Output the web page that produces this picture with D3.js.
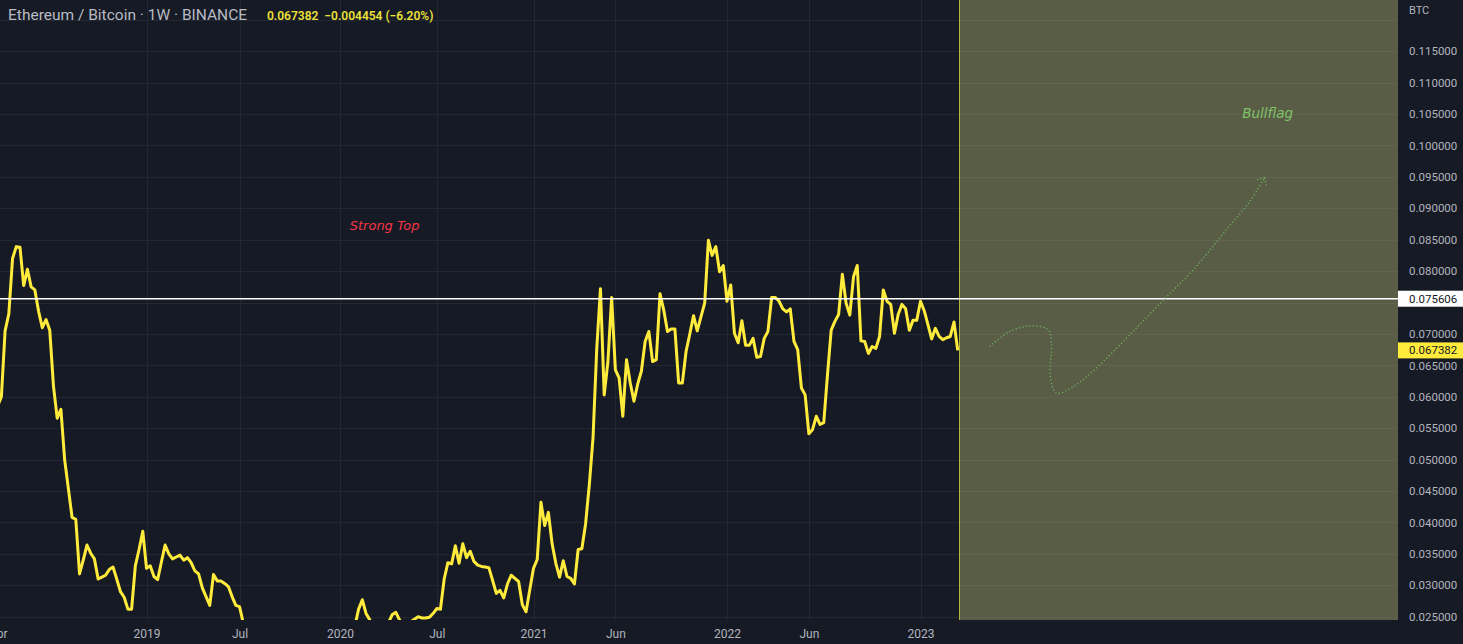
<!DOCTYPE html>
<html lang="en">
<head>
<meta charset="UTF-8">
<title>Ethereum / Bitcoin 1W</title>
<script src="https://cdnjs.cloudflare.com/ajax/libs/d3/7.8.5/d3.min.js"></script>
<style>
  html, body { margin: 0; padding: 0; background: #161a25; }
  svg { display: block; }
  text { font-family: Roboto, "Liberation Sans", sans-serif; }
  text.note { font-family: "DejaVu Sans", sans-serif; font-style: italic; }
</style>
</head>
<body>
<svg id="chart"></svg>
<script>
// weekly closes ETH/BTC, first bar 2018-04-02
const firstBar = "2018-04-02";
const w2018 = [0.0585, 0.0600, 0.0705, 0.0732, 0.0820, 0.0839, 0.0838, 0.0777, 0.0803, 0.0775,
  0.0770, 0.0736, 0.0710, 0.0723, 0.0706, 0.0617, 0.0566, 0.0580, 0.0500, 0.0454,
  0.0408, 0.0405, 0.0318, 0.0340, 0.0364, 0.0351, 0.0342, 0.0310, 0.0313, 0.0316,
  0.0325, 0.0329, 0.0310, 0.0290, 0.0281, 0.0262, 0.0262, 0.0331, 0.0357, 0.0386];
const w2019 = [0.0327, 0.0331, 0.0314, 0.0309, 0.0337, 0.0364, 0.0350, 0.0342, 0.0345, 0.0348,
  0.0340, 0.0344, 0.0336, 0.0323, 0.0318, 0.0296, 0.0282, 0.0268, 0.0317, 0.0307,
  0.0307, 0.0303, 0.0298, 0.0282, 0.0268, 0.0266, 0.0240, 0.0225, 0.0228, 0.0220,
  0.0205, 0.0195, 0.0190, 0.0188, 0.0180, 0.0178, 0.0210, 0.0215, 0.0205, 0.0215,
  0.0220, 0.0230, 0.0195, 0.0200, 0.0205, 0.0202, 0.0200, 0.0205, 0.0200, 0.0190,
  0.0185, 0.0182];
const w2020 = [0.0180, 0.0188, 0.0195, 0.0215, 0.0235, 0.0262, 0.0277, 0.0255, 0.0245, 0.0230,
  0.0220, 0.0215, 0.0225, 0.0240, 0.0253, 0.0257, 0.0245, 0.0235, 0.0238, 0.0242,
  0.0246, 0.0250, 0.0248, 0.0248, 0.0249, 0.0255, 0.0263, 0.0262, 0.0310, 0.0336,
  0.0334, 0.0363, 0.0335, 0.0366, 0.0344, 0.0354, 0.0338, 0.0332, 0.0330, 0.0329,
  0.0328, 0.0308, 0.0287, 0.0292, 0.0280, 0.0302, 0.0316, 0.0311, 0.0306, 0.0269,
  0.0258, 0.0293];
const w2021 = [0.0327, 0.0341, 0.0432, 0.0395, 0.0416, 0.0366, 0.0335, 0.0313, 0.0339, 0.0314,
  0.0311, 0.0302, 0.0357, 0.0358, 0.0398, 0.0460, 0.0535, 0.0677, 0.0772, 0.0603,
  0.0656, 0.0758, 0.0643, 0.0630, 0.0569, 0.0659, 0.0622, 0.0593, 0.0620, 0.0641,
  0.0688, 0.0704, 0.0656, 0.0659, 0.0764, 0.0738, 0.0704, 0.0708, 0.0708, 0.0622,
  0.0622, 0.0672, 0.0700, 0.0729, 0.0705, 0.0727, 0.0749, 0.0849, 0.0825, 0.0839,
  0.0799, 0.0809];
const w2022 = [0.0752, 0.0778, 0.0701, 0.0686, 0.0721, 0.0682, 0.0682, 0.0693, 0.0663, 0.0664,
  0.0693, 0.0704, 0.0758, 0.0758, 0.0752, 0.0740, 0.0735, 0.0740, 0.0688, 0.0675,
  0.0614, 0.0603, 0.0541, 0.0548, 0.0569, 0.0556, 0.0559, 0.0635, 0.0706, 0.0720,
  0.0731, 0.0795, 0.0749, 0.0730, 0.0791, 0.0809, 0.0689, 0.0688, 0.0669, 0.0680,
  0.0677, 0.0696, 0.0770, 0.0752, 0.0747, 0.0701, 0.0731, 0.0747, 0.0740, 0.0706,
  0.0722, 0.0722];
const w2023 = [0.0752, 0.0737, 0.0715, 0.0692, 0.0709, 0.0696, 0.0691, 0.0694, 0.0696, 0.0719,
  0.067382];

// axis ticks
const timeTicks = ["2018-04-02", "2019-01-07", "2019-07-01", "2020-01-06", "2020-07-06",
  "2021-01-04", "2021-06-07", "2022-01-03", "2022-06-06", "2023-01-02"];
const timeLabels = ["Apr", "2019", "Jul", "2020", "Jul", "2021", "Jun", "2022", "Jun", "2023"];
const gridTicks = d3.range(25, 121, 5).map(d => d / 1000);   // 0.025 .. 0.120
const priceLabels = d3.range(25, 116, 5).map(d => d / 1000); // 0.025 .. 0.115

// drawings
const strongTopLevel = 0.075606;
const lastClose = 0.067382;
const header = "Ethereum / Bitcoin · 1W · BINANCE";
const headerQuote = "0.067382  −0.004454 (−6.20%)";
const strongTop = { date: "2020-03-30", price: 0.0872, text: "Strong Top" };
const bullflag = { date: "2024-10-16", price: 0.1051, text: "Bullflag" };
// [weeks after last bar, price]
const bullflagPath = [[8.6, 0.0680], [14, 0.0704], [20.3, 0.0713], [24.4, 0.0706], [25.2, 0.0685],
  [24.9, 0.0632], [26.5, 0.0606], [31, 0.0616], [38.2, 0.0651], [47.1, 0.0704], [56.1, 0.0759],
  [63.3, 0.0802], [72.2, 0.0866], [78.5, 0.0911], [82.5, 0.0949]];
const zone = { from: "2023-03-16", to: "2027-01-01", top: 0.14, bottom: 0.01 };

(function () {
  const W = 1463, H = 644, plotRight = 1398, plotBottom = 620;
  const parse = d3.utcParse("%Y-%m-%d");
  const fmt = d3.format(".6f");
  const closes = [].concat(w2018, w2019, w2020, w2021, w2022, w2023);
  const start = parse(firstBar);
  const data = closes.map((v, i) => ({ date: d3.utcDay.offset(start, 7 * i), close: v }));
  const lastDate = data[data.length - 1].date;

  const x = d3.scaleUtc()
    .domain([parse("2019-01-07"), parse("2023-01-02")])
    .range([146.5, 920.5]);
  const y = d3.scaleLinear()
    .domain([0.025, 0.115])
    .range([616.7, 51.2]);

  const svg = d3.select("#chart").attr("width", W).attr("height", H);
  svg.append("rect").attr("width", W).attr("height", H).attr("fill", "#161a25");

  svg.append("clipPath").attr("id", "plot")
    .append("rect").attr("width", plotRight).attr("height", plotBottom);
  const plot = svg.append("g").attr("clip-path", "url(#plot)");

  // grid
  plot.append("g").selectAll("line").data(gridTicks).join("line")
    .attr("x1", 0).attr("x2", plotRight)
    .attr("y1", d => Math.round(y(d)) + 0.5).attr("y2", d => Math.round(y(d)) + 0.5)
    .attr("stroke", "#232734").attr("stroke-width", 1);
  plot.append("g").selectAll("line").data(timeTicks).join("line")
    .attr("x1", d => Math.round(x(parse(d))) + 0.5).attr("x2", d => Math.round(x(parse(d))) + 0.5)
    .attr("y1", 0).attr("y2", plotBottom)
    .attr("stroke", "#232734").attr("stroke-width", 1);

  // projection zone
  const zx0 = x(parse(zone.from)), zx1 = x(parse(zone.to));
  plot.append("rect")
    .attr("x", Math.round(zx0) + 0.5).attr("y", y(zone.top))
    .attr("width", zx1 - zx0).attr("height", y(zone.bottom) - y(zone.top))
    .attr("fill", "rgba(190,196,120,0.40)")
    .attr("stroke", "#b3b43a").attr("stroke-width", 1);

  // price line
  const line = d3.line().x(d => x(d.date)).y(d => y(d.close));
  plot.append("path").datum(data)
    .attr("d", line)
    .attr("fill", "none")
    .attr("stroke", "#ffeb3b")
    .attr("stroke-width", 3)
    .attr("stroke-linejoin", "round");

  // horizontal level
  plot.append("line")
    .attr("x1", 0).attr("x2", plotRight)
    .attr("y1", y(strongTopLevel)).attr("y2", y(strongTopLevel))
    .attr("stroke", "#ffffff").attr("stroke-width", 1.3);

  // bullflag projection
  const wk = w => d3.utcHour.offset(lastDate, Math.round(w * 168));
  const pts = bullflagPath.map(p => [x(wk(p[0])), y(p[1])]);
  plot.append("path")
    .attr("d", d3.line().curve(d3.curveCatmullRom.alpha(0.5))(pts))
    .attr("fill", "none")
    .attr("stroke", "#6fae5c").attr("stroke-width", 1.3)
    .attr("stroke-dasharray", "1.3 2.2");
  const tip = pts[pts.length - 1], prev = pts[pts.length - 2];
  const ang = Math.atan2(prev[1] - tip[1], prev[0] - tip[0]);
  [-0.75, 0.75].forEach(a => {
    plot.append("line")
      .attr("x1", tip[0]).attr("y1", tip[1])
      .attr("x2", tip[0] + 8 * Math.cos(ang + a)).attr("y2", tip[1] + 8 * Math.sin(ang + a))
      .attr("stroke", "#6fae5c").attr("stroke-width", 1.3)
      .attr("stroke-dasharray", "1.3 2.2");
  });

  // text notes
  plot.append("text").attr("class", "note")
    .attr("x", x(parse(strongTop.date))).attr("y", y(strongTop.price))
    .attr("dy", "0.35em").attr("text-anchor", "middle")
    .attr("font-size", 13)
    .attr("fill", "#f23645").text(strongTop.text);
  plot.append("text").attr("class", "note")
    .attr("x", x(parse(bullflag.date))).attr("y", y(bullflag.price))
    .attr("dy", "0.35em").attr("text-anchor", "middle")
    .attr("font-size", 13.5)
    .attr("fill", "#7fc266").text(bullflag.text);

  // price axis (labels hidden by the badges are left out)
  const badges = [strongTopLevel, lastClose];
  const shown = priceLabels.filter(v => badges.every(b => Math.abs(y(v) - y(b)) > 12));
  const yAxis = svg.append("g")
    .attr("transform", `translate(${plotRight + 11},0)`)
    .call(d3.axisRight(y).tickValues(shown).tickFormat(fmt).tickSize(0).tickPadding(0));
  yAxis.select(".domain").remove();
  yAxis.selectAll("text").attr("font-size", 11.5).attr("fill", "#b2b5be");

  svg.append("text").attr("x", plotRight + 11).attr("y", 14)
    .attr("font-size", 11).attr("fill", "#b2b5be").text("BTC");

  // price labels on axis
  const badge = (v, bg, fg) => {
    const g = svg.append("g").attr("transform", `translate(${plotRight},${y(v)})`);
    g.append("rect").attr("x", 0).attr("y", -8).attr("width", W - plotRight).attr("height", 16).attr("fill", bg);
    g.append("text").attr("x", 11).attr("dy", "0.35em")
      .attr("font-size", 11.5).attr("fill", fg).text(fmt(v));
  };
  badge(strongTopLevel, "#ffffff", "#131722");
  badge(lastClose, "#ffeb3b", "#131722");

  // time axis
  const xAxis = svg.append("g")
    .attr("transform", `translate(0,${plotBottom})`)
    .call(d3.axisBottom(x).tickValues(timeTicks.map(parse))
      .tickFormat((d, i) => timeLabels[i]).tickSize(0).tickPadding(9));
  xAxis.select(".domain").remove();
  xAxis.selectAll("text").attr("font-size", 12).attr("fill", "#b2b5be");

  // legend
  svg.append("text").attr("x", 8).attr("y", 20)
    .attr("font-size", 15.5).attr("fill", "#b8bbc4").text(header);
  svg.append("text").attr("x", 267).attr("y", 19.5).attr("xml:space", "preserve")
    .style("white-space", "pre")
    .attr("font-size", 12).attr("font-weight", 600).attr("fill", "#ece13a").text(headerQuote);
})();
</script>
</body>
</html>
